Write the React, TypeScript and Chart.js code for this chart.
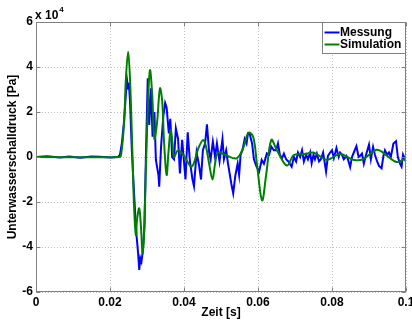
import React, { useEffect, useRef } from "react";
import { Chart, registerables } from "chart.js";

Chart.register(...registerables);

// Values in units of 10^4 Pa, time in s
const xTickValues = [0, 0.02, 0.04, 0.06, 0.08, 0.1];
const yTickValues = [-6, -4, -2, 0, 2, 4, 6];
const seriesNames = ["Messung", "Simulation"];
const exponentLabel = "x 10";
const exponentPower = "4";

const messungT = [
  0, 0.003, 0.0065, 0.009, 0.0119, 0.015, 0.0173, 0.02, 0.0222, 0.0227, 0.0232, 0.0238, 0.0243, 0.0246,
  0.0249, 0.0251, 0.0254, 0.0259, 0.0265, 0.0268, 0.0272, 0.0276, 0.0279, 0.0282, 0.0285, 0.0288,
  0.0293, 0.0297, 0.0302, 0.0306, 0.0311, 0.0315, 0.032, 0.0324, 0.0331, 0.0333, 0.0338, 0.0344,
  0.0349, 0.0353, 0.0359, 0.0363, 0.0368, 0.0373, 0.0378, 0.0384, 0.0389, 0.0395, 0.0404, 0.041,
  0.0416, 0.0423, 0.0427, 0.0434, 0.0441, 0.0446, 0.0451, 0.0457, 0.0462, 0.0468, 0.0472, 0.0478,
  0.0484, 0.0489, 0.0496, 0.0504, 0.0508, 0.0514, 0.0519, 0.0524, 0.0528, 0.0533, 0.0539, 0.0545,
  0.0549, 0.0553, 0.0558, 0.0564, 0.0569, 0.0573, 0.0578, 0.0584, 0.0589, 0.0596, 0.0603, 0.061,
  0.0616, 0.0624, 0.063, 0.0636, 0.0643, 0.0649, 0.0654, 0.0659, 0.0665, 0.067, 0.0676, 0.0682,
  0.0691, 0.0697, 0.0703, 0.0708, 0.0714, 0.0719, 0.0724, 0.073, 0.0735, 0.0741, 0.0745, 0.075,
  0.0754, 0.0759, 0.0765, 0.077, 0.0776, 0.0784, 0.0789, 0.0795, 0.08, 0.0805, 0.0812, 0.0818,
  0.0822, 0.0827, 0.0832, 0.0839, 0.0843, 0.0849, 0.0854, 0.0859, 0.0866, 0.0872, 0.0876, 0.0881,
  0.0886, 0.0892, 0.09, 0.0905, 0.0911, 0.0916, 0.0922, 0.0927, 0.0934, 0.0939, 0.0943, 0.0949,
  0.0954, 0.0959, 0.0966, 0.0973, 0.0978, 0.0984, 0.0988, 0.0992, 0.0997, 0.1,
];
const messungV = [
  0, 0.03, -0.02, 0.02, -0.03, 0.02, 0.01, -0.02, 0, 0.1, 0.6, 1.6, 2.8, 3.42,
  3.05, 3.3, 2.5, 0.3, -1.6, -2.5, -3.54, -4.28, -5.02, -4.5, -4.65, -4.28,
  -3.1, 0, 3.5, 1.42, 3.05, 0.9, 2.0, -0.13, -0.8, -1.32, 0.46, 1.8,
  2.4, 2.2, 1.05, 1.7, 0, -0.1, 1.27, 0.8, -0.73, 0.76, -1.0, 1.1,
  -0.2, -1.0, -1.3, 0.2, -0.4, -1.0, 0.3, 0.6, 1.45, 0.2, -0.1, 0.68,
  0, 0.6, -0.2, 0.8, -0.1, 0.3, -0.3, -0.8, -1.2, -1.62, -0.8, -0.3,
  -0.8, 0.1, 0.3, 0.8, 0.6, 1.05, 1.0, 0.6, -0.1, -0.43, -0.65, -0.13,
  -0.3, 0.16, 0.1, 0.46, 0.3, 0.3, 0.6, 0.1, -0.05, 0.15, -0.1, -0.2,
  -0.43, 0, -0.2, 0.2, 0, 0.3, -0.2, 0.1, -0.1, 0.2, -0.28, 0.1,
  -0.1, 0.15, -0.2, -0.1, 0.2, -0.65, 0.05, 0.2, 0.3, -0.05, 0.4, 0,
  0.2, 0.1, -0.1, 0.05, -0.1, -0.45, 0, 0.2, 0.48, 0, 0.05, 0.15,
  -0.3, 0.1, 0.55, -0.1, 0.45, 0.1, -0.2, -0.4, -0.5, 0.05, 0.3, 0.1,
  0.2, 0, 0.6, 0.7, 0, -0.3, -0.43, 0.1, -0.1, 0.05,
];

const simulationT = [
  0, 0.0224, 0.023, 0.0238, 0.0243, 0.0249, 0.0254, 0.026, 0.0265, 0.027, 0.0273, 0.0279, 0.0284,
  0.0288, 0.0292, 0.0297, 0.0303, 0.0308, 0.0314, 0.032, 0.0327, 0.0335, 0.0341, 0.0346, 0.0353,
  0.0358, 0.0364, 0.0369, 0.0373, 0.0384, 0.04, 0.0421, 0.0439, 0.0452, 0.0459, 0.0468, 0.0477,
  0.0484, 0.0492, 0.0511, 0.0542, 0.056, 0.0574, 0.0587, 0.0597, 0.0611, 0.0622, 0.0636, 0.0651,
  0.0678, 0.0697, 0.0724, 0.0751, 0.0786, 0.0822, 0.0857, 0.0884, 0.0921, 0.0949, 0.0975, 0.1,
];
const simulationV = [
  0, 0, 0.1, 1.5, 3.5, 4.68, 3.5, 0.5, -2.2, -3.47, -2.8, -2.28, -3.2,
  -4.28, -3.5, -0.5, 2.5, 3.87, 2.8, 0.8, 1.5, 3.05, 2.5, 0.7, -0.8,
  0.2, 1.2, 0.6, 0, 0.3, 0.05, -0.43, 0.4, 0.76, 0.5, -0.3, -1.0,
  -0.3, 0.2, 0.1, -0.06, 0.4, 1.08, 0.9, -0.3, -1.93, -0.8, 0.76, 0.3,
  -0.38, 0.09, 0.12, 0.19, -0.13, 0.13, -0.12, -0.1, 0.32, 0.05, -0.22, -0.05,
];

const BLUE = "#0000ff";
const GREEN = "#008000";
const BOX = "#808080";
const FONT = "'Liberation Sans', Arial, sans-serif";

const decorPlugin = {
  id: "matlabDecor",
  afterDatasetsDraw(chart: any) {
    const { ctx, chartArea, scales } = chart;
    const { left, right, top, bottom } = chartArea;
    ctx.save();
    ctx.strokeStyle = BOX;
    ctx.lineWidth = 1;
    const l = Math.round(left) + 0.5;
    const r = Math.round(right) - 0.5;
    const t = Math.round(top) + 0.5;
    const b = Math.round(bottom) - 0.5;
    ctx.strokeRect(l, t, r - l, b - t);
    const tl = 4;
    ctx.beginPath();
    for (const v of xTickValues) {
      const px = Math.round(scales.x.getPixelForValue(v)) + 0.5;
      ctx.moveTo(px, b);
      ctx.lineTo(px, b - tl);
      ctx.moveTo(px, t);
      ctx.lineTo(px, t + tl);
    }
    for (const v of yTickValues) {
      const py = Math.round(scales.y.getPixelForValue(v)) + 0.5;
      ctx.moveTo(l, py);
      ctx.lineTo(l + tl, py);
      ctx.moveTo(r, py);
      ctx.lineTo(r - tl, py);
    }
    ctx.stroke();
    ctx.restore();
  },
  afterDraw(chart: any) {
    const { ctx, chartArea } = chart;
    const { left, right, top } = chartArea;
    ctx.save();
    // exponent label
    ctx.fillStyle = "#000";
    ctx.font = `bold 12px ${FONT}`;
    ctx.textBaseline = "middle";
    ctx.textAlign = "left";
    ctx.fillText(exponentLabel, left - 1, top - 6);
    const w = ctx.measureText(exponentLabel).width;
    ctx.font = `bold 8px ${FONT}`;
    ctx.fillText(exponentPower, left - 1 + w + 1, top - 12);

    // legend
    const bx = Math.round(right) - 83.5;
    const by = Math.round(top) + 0.5;
    const bw = 83;
    const bh = 31;
    ctx.fillStyle = "#fff";
    ctx.fillRect(bx, by, bw, bh);
    ctx.strokeStyle = BOX;
    ctx.lineWidth = 1;
    ctx.strokeRect(bx, by, bw, bh);
    const colors = [BLUE, GREEN];
    const ys = [by + 10, by + 22];
    seriesNames.forEach((name, i) => {
      ctx.strokeStyle = colors[i];
      ctx.lineWidth = 2;
      ctx.beginPath();
      ctx.moveTo(bx + 2, ys[i]);
      ctx.lineTo(bx + 17, ys[i]);
      ctx.stroke();
      ctx.fillStyle = "#000";
      ctx.font = `bold 12px ${FONT}`;
      ctx.textBaseline = "middle";
      ctx.fillText(name, bx + 17.5, ys[i] + 0.5);
    });
    ctx.restore();
  },
};

export default function App() {
  const ref = useRef<HTMLCanvasElement | null>(null);

  useEffect(() => {
    if (!ref.current) return;
    const mes = messungT.map((t, i) => ({ x: t, y: messungV[i] }));
    const sim = simulationT.map((t, i) => ({ x: t, y: simulationV[i] }));
    const tickFont = { family: FONT, size: 12, weight: "bold" as const };
    const chart = new Chart(ref.current, {
      type: "line",
      data: {
        datasets: [
          {
            label: seriesNames[1],
            data: sim,
            borderColor: GREEN,
            borderWidth: 2,
            pointRadius: 0,
            tension: 0.35,
            fill: false,
          },
          {
            label: seriesNames[0],
            data: mes,
            borderColor: BLUE,
            borderWidth: 2,
            pointRadius: 0,
            tension: 0,
            fill: false,
          },
        ],
      },
      options: {
        animation: false,
        responsive: false,
        devicePixelRatio: 1,
        layout: { padding: { left: 0, right: 6, top: 22, bottom: 0 } },
        plugins: { legend: { display: false }, tooltip: { enabled: false } },
        scales: {
          x: {
            type: "linear",
            min: 0,
            max: 0.1,
            afterBuildTicks: (s: any) => {
              s.ticks = xTickValues.map((v) => ({ value: v }));
            },
            ticks: {
              font: tickFont,
              color: "#000",
              padding: 3,
              maxRotation: 0,
              autoSkip: false,
              callback: (v: any) => String(Number(Number(v).toFixed(2))),
            },
            grid: { color: "#c0c0c0", lineWidth: 1, drawTicks: false },
            border: { display: false, dash: [1, 2] },
            title: {
              display: true,
              text: "Zeit [s]",
              font: tickFont,
              color: "#000",
              padding: { top: 0, bottom: 3 },
            },
            afterFit: (s: any) => {
              s.height = 31;
              s.paddingLeft = 0;
              s.paddingRight = 0;
            },
          },
          y: {
            type: "linear",
            min: -6,
            max: 6,
            afterBuildTicks: (s: any) => {
              s.ticks = yTickValues.map((v) => ({ value: v }));
            },
            ticks: {
              font: tickFont,
              color: "#000",
              padding: 3,
              autoSkip: false,
              callback: (v: any) => String(v),
            },
            grid: { color: "#c0c0c0", lineWidth: 1, drawTicks: false },
            border: { display: false, dash: [1, 2] },
            title: {
              display: true,
              text: "Unterwasserschalldruck [Pa]",
              font: tickFont,
              color: "#000",
              padding: { top: 5, bottom: 0 },
            },
            afterFit: (s: any) => {
              s.width = 36;
              s.paddingTop = 0;
              s.paddingBottom = 0;
            },
          },
        },
      },
      plugins: [decorPlugin],
    });
    return () => chart.destroy();
  }, []);

  return (
    <div style={{ position: "absolute", left: 0, top: 0, width: 412, height: 323, background: "#fff" }}>
      <canvas ref={ref} width={412} height={323} style={{ display: "block" }} />
    </div>
  );
}
